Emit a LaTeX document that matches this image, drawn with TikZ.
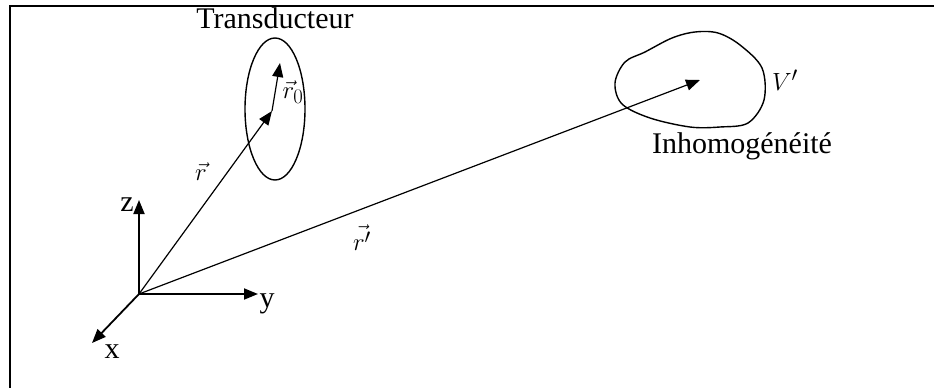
\documentclass[tikz,border=0pt]{standalone}
\usepackage{fontspec}
\setmainfont{Liberation Serif}
\usetikzlibrary{arrows.meta, positioning, shapes.geometric}

\begin{document}
\begin{tikzpicture}[
            x=1pt, y=-1pt,
            every node/.style={font=\fontsize{30}{32}\selectfont, inner sep=0pt},
            axe/.style={-{Triangle[length=14pt, width=11pt]}, line width=1.8pt},
            vecteur/.style={-{Triangle[length=14pt, width=11pt]}, line width=1.2pt},
            contour/.style={line width=1.4pt},
            sonde/.style={ellipse, draw, line width=1.4pt, minimum width=60pt, minimum height=142pt},
            etiq/.style={font=\fontsize{32}{34}\selectfont}
        ]
            \useasboundingbox (0,0) rectangle (934,388);
            \draw[line width=1.6pt] (934,6) -- (10,6) -- (10,388);
            % repere
            \coordinate (O) at (139,294);
            \coordinate (ez) at (139,200);
            \coordinate (ey) at (258,294);
            \coordinate (ex) at (92,343);
            \node (lz) at (127,205) {z};
            \node (ly) at (267,304) {y};
            \node (lx) at (112,352) {x};
            \draw[axe] (O) -- (ez);
            \draw[axe] (O) -- (ey);
            \draw[axe] (O) -- (ex);
            % transducteur
            \node[sonde] (trans) at (275,109) {};
            \node[above=8pt of trans] (ltrans) {Transducteur};
            \coordinate (P) at (272,111);
            \coordinate (Q) at (280,63);
            \draw[vecteur] (O) -- (P);
            \draw[vecteur] (P) -- (Q);
            \node[etiq] (lr) at (201,172) {$\vec{r}$};
            \node[etiq] (lro) at (293,92) {$\vec{r}_0$};
            % inhomogeneite
            \draw[contour] plot[smooth cycle, tension=0.55] coordinates {
                (625,62) (645,52) (672,38) (695,32) (718,33) (740,45) (762,68)
                (764,100) (748,123) (720,127) (690,127) (650,118) (622,104) (615,83)};
            \coordinate (M) at (700,80);
            \draw[vecteur] (O) -- (M);
            \node[etiq] (lrp) at (362,238) {$\vec{r'}$};
            \node[etiq] (lv) at (785,80) {$V'$};
            \node (linh) at (742,146) {Inhomogénéité};
        \end{tikzpicture}
\end{document}
